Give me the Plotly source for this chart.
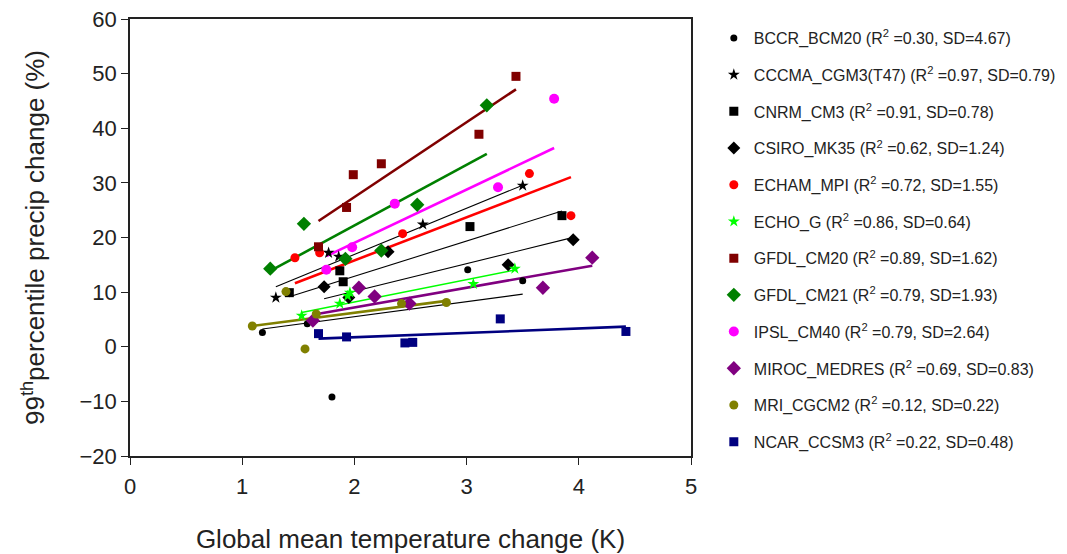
import plotly.graph_objects as go

# ---------------- data ----------------
models = ["BCCR_BCM20", "CCCMA_CGM3(T47)", "CNRM_CM3", "CSIRO_MK35", "ECHAM_MPI", "ECHO_G",
          "GFDL_CM20", "GFDL_CM21", "IPSL_CM40", "MIROC_MEDRES", "MRI_CGCM2", "NCAR_CCSM3"]
r2 = ["0.30", "0.97", "0.91", "0.62", "0.72", "0.86", "0.89", "0.79", "0.79", "0.69", "0.12", "0.22"]
sd = ["4.67", "0.79", "0.78", "1.24", "1.55", "0.64", "1.62", "1.93", "2.64", "0.83", "0.22", "0.48"]

bccr_x = [1.18, 1.58, 1.80, 3.01, 3.50]
bccr_y = [2.6, 4.2, -9.2, 14.1, 12.1]
cccma_x = [1.30, 1.77, 1.86, 2.61, 3.50]
cccma_y = [9.0, 17.2, 16.5, 22.4, 29.5]
cnrm_x = [1.42, 1.87, 1.90, 3.03, 3.85]
cnrm_y = [9.9, 13.9, 11.9, 22.0, 24.0]
csiro_x = [1.73, 1.95, 2.30, 3.37, 3.95]
csiro_y = [11.0, 9.0, 17.4, 15.0, 19.6]
echam_x = [1.47, 1.69, 2.43, 3.56, 3.93]
echam_y = [16.3, 17.2, 20.7, 31.7, 24.0]
echog_x = [1.53, 1.87, 1.94, 1.96, 3.06, 3.43]
echog_y = [5.7, 7.9, 9.3, 9.9, 11.5, 14.3]
gfdl20_x = [1.68, 1.93, 1.99, 2.24, 3.11, 3.44]
gfdl20_y = [18.3, 25.5, 31.5, 33.5, 38.9, 49.5]
gfdl21_x = [1.25, 1.55, 1.92, 2.24, 2.56, 3.18]
gfdl21_y = [14.3, 22.5, 16.1, 17.6, 26.0, 44.2]
ipsl_x = [1.75, 1.98, 2.36, 3.28, 3.78]
ipsl_y = [14.1, 18.2, 26.2, 29.2, 45.4]
miroc_x = [1.63, 2.04, 2.18, 2.49, 3.68, 4.12]
miroc_y = [4.8, 10.8, 9.2, 7.9, 10.8, 16.3]
mri_x = [1.09, 1.39, 1.56, 1.66, 2.42, 2.82]
mri_y = [3.8, 10.1, -0.4, 6.0, 7.9, 8.1]
ncar_x = [1.68, 1.93, 2.45, 2.52, 3.30, 4.42]
ncar_y = [2.4, 1.8, 0.7, 0.8, 5.1, 2.8]

# fitted trend lines (slope, intercept)
trend_slope = [2.75, 8.45, 6.45, 5.07, 7.9, 4.1, 13.7, 11.1, 9.75, 3.6, 2.66, 0.8]
trend_intercept = [0.0, 0.0, 0.0, 0.0, 0.0, 0.0, 0.0, 0.0, -0.47, 0.0, 0.9, 0.14]

xs = [bccr_x, cccma_x, cnrm_x, csiro_x, echam_x, echog_x, gfdl20_x, gfdl21_x, ipsl_x, miroc_x, mri_x, ncar_x]
ys = [bccr_y, cccma_y, cnrm_y, csiro_y, echam_y, echog_y, gfdl20_y, gfdl21_y, ipsl_y, miroc_y, mri_y, ncar_y]

# ---------------- styles ----------------
colors = ["#000000", "#000000", "#000000", "#000000", "#FF0000", "#00FF00",
          "#800000", "#008000", "#FF00FF", "#800080", "#808000", "#000080"]
symbols = ["circle", "star", "square", "diamond", "circle", "star",
           "square", "diamond", "circle", "diamond", "circle", "square"]
msizes = [7, 9, 9, 10, 9, 9, 9, 11, 10, 11, 9, 9]
lwidths = [1.1, 1.1, 1.1, 1.1, 2.6, 1.5, 2.6, 2.6, 2.6, 2.6, 2.6, 2.6]

FONT = "Arial, 'Liberation Sans', sans-serif"
TXT = "#222222"
fig = go.Figure()

for i, m in enumerate(models):
    x0, x1 = min(xs[i]), max(xs[i])
    fig.add_trace(go.Scatter(
        x=[x0, x1], y=[trend_intercept[i] + trend_slope[i] * x0, trend_intercept[i] + trend_slope[i] * x1],
        mode="lines", line=dict(color=colors[i], width=lwidths[i]),
        showlegend=False, hoverinfo="skip"))

for i, m in enumerate(models):
    fig.add_trace(go.Scatter(
        x=xs[i], y=ys[i], mode="markers",
        marker=dict(symbol=symbols[i], color=colors[i], size=msizes[i], line=dict(width=0)),
        name=f"{m} (R<sup>2</sup> =" + r2[i] + ", SD=" + sd[i] + ")",
        legendgroup=m))

fig.update_layout(
    width=1067, height=554,
    margin=dict(l=130, r=376, t=19, b=98),
    paper_bgcolor="white", plot_bgcolor="white",
    font=dict(family=FONT, color=TXT),
    showlegend=True,
    legend=dict(xref="container", yref="container", x=0.669, y=0.962,
                xanchor="left", yanchor="top",
                font=dict(size=16, family=FONT, color=TXT),
                tracegroupgap=12.9, itemsizing="trace", maxheight=554,
                bgcolor="rgba(0,0,0,0)"),
    xaxis=dict(range=[0, 5], dtick=1, showgrid=False, zeroline=False, automargin=False,
               showline=True, linecolor=TXT, linewidth=1.5, mirror=True,
               ticks="outside", ticklen=7, tickwidth=1.2, tickcolor=TXT, ticklabelstandoff=3,
               tickfont=dict(size=22, family=FONT, color=TXT),
               title=dict(text="Global mean temperature change (K)",
                          font=dict(size=26, family=FONT, color=TXT), standoff=44)),
    yaxis=dict(range=[-20, 60], dtick=10, showgrid=False, zeroline=False, automargin=False,
               showline=True, linecolor=TXT, linewidth=1.5, mirror=True,
               ticks="outside", ticklen=7, tickwidth=1.2, tickcolor=TXT,
               tickfont=dict(size=22, family=FONT, color=TXT),
               title=dict(text="99<sup>th</sup>percentile precip change (%)",
                          font=dict(size=26, family=FONT, color=TXT), standoff=27)),
)

fig.write_html("out.html")
